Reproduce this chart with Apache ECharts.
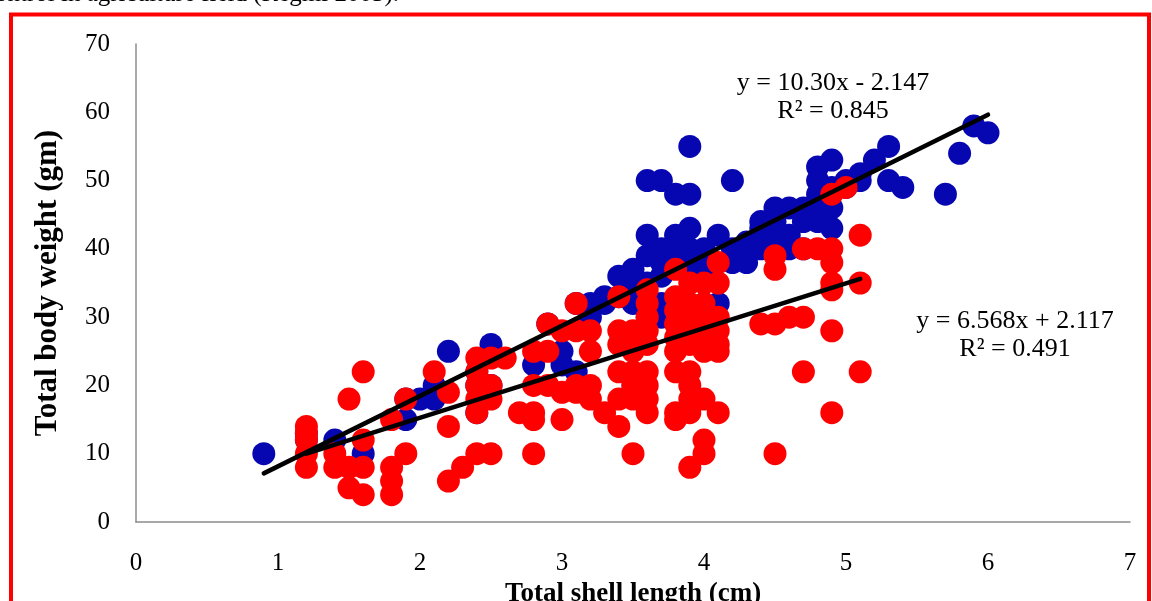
<!DOCTYPE html>
<html>
<head>
<meta charset="utf-8">
<script src="https://cdn.jsdelivr.net/npm/echarts@6/dist/echarts.min.js"></script>
<style>
html,body{margin:0;padding:0;background:#fff;}
#chart{width:1152px;height:601px;}
</style>
</head>
<body>
<div id="chart"></div>
<script>
// ---- data ----
const xTicks = [0,1,2,3,4,5,6,7];
const yTicks = [0,10,20,30,40,50,60,70];

const blueX = [0.9,1.2,1.2,1.4,1.6,1.9,1.9,2.0,2.1,2.1,2.2,2.4,2.4,2.4,2.5,2.5,2.8,2.9,3.0,3.0,3.1,3.1,3.2,3.2,3.3,3.4,3.5,3.5,3.5,3.5,3.6,3.6,3.6,3.7,3.8,3.9,3.9,3.8,3.9,4.1,4.2,3.7,3.7,3.7,3.6,3.8,3.9,4.0,4.0,3.9,4.2,4.3,4.3,4.4,4.4,4.5,4.5,4.5,4.6,4.6,4.6,4.7,4.7,4.7,4.8,4.8,4.8,4.8,4.8,4.9,4.9,4.9,4.9,5.0,5.1,5.1,5.2,5.3,5.3,5.4,5.7,5.8,5.9,6.0,4.0,4.1,3.7,3.6,3.7,3.5,3.4,3.3,4.0,4.2,4.4,4.5,5.0];
const blueY = [10,12,13,12,10,15,18,18,18,20,25,16,20,22,26,20,23,29,25,23,32,22,32,30,33,36,37,32,21,20,39,42,50,50,48,48,55,42,43,42,50,40,38,36,35,40,40,40,38,38,40,41,38,43,40,46,44,41,46,42,40,46,40,44,52,50,48,46,44,53,49,46,43,49,51,50,53,55,50,49,48,54,58,57,32,32,32,30,30,34,33,32,36,38,44,40,50];

const redX = [1.2,1.2,1.2,1.2,1.2,1.4,1.4,1.5,1.5,1.5,1.6,1.6,1.6,1.6,1.8,1.8,1.8,1.8,1.9,1.9,2.1,2.2,2.2,2.2,2.3,2.4,2.4,2.4,2.4,2.4,2.4,2.5,2.5,2.5,2.5,2.6,2.7,2.8,2.8,2.8,2.8,2.8,2.9,2.9,2.9,3.0,3.0,3.0,3.1,3.1,3.1,3.1,3.2,3.2,3.2,3.2,3.3,3.4,3.4,3.4,3.4,3.4,3.4,3.5,3.5,3.5,3.5,3.5,3.5,3.6,3.6,3.6,3.6,3.6,3.6,3.6,3.6,3.6,3.8,3.8,3.8,3.8,3.8,3.8,3.8,3.8,3.8,3.9,3.9,3.9,3.9,3.9,3.9,3.9,3.9,3.9,3.9,4.0,4.0,4.0,4.0,4.0,4.0,4.0,4.0,4.0,4.1,4.1,4.1,4.1,4.1,4.1,4.1,4.4,4.5,4.5,4.5,4.5,4.6,4.7,4.7,4.7,4.8,4.9,4.9,4.9,4.9,4.9,4.9,4.9,5.0,5.1,5.1,5.1];
const redY = [14,13,12,10,8,10,8,8,5,18,22,12,8,4,15,8,6,4,18,10,22,19,14,6,8,24,22,20,18,16,10,24,20,18,10,24,16,25,20,16,15,10,29,25,20,28,19,15,32,28,20,19,28,25,20,18,16,33,28,26,22,18,14,28,25,22,20,18,10,34,32,30,28,26,22,20,18,16,37,33,31,29,27,25,22,16,15,35,32,30,28,26,22,20,18,16,8,35,32,30,28,26,25,18,12,10,38,35,30,28,26,25,16,29,39,37,29,10,30,40,30,22,40,48,40,38,35,34,28,16,49,42,35,22];

// printed regression equations
const blueFit = {slope: 10.30, intercept: -2.147, xFrom: 0.9, xTo: 6.0};
const redFit  = {slope: 6.568, intercept: 2.117, xFrom: 1.2, xTo: 5.1};

// ---- build ----
const zip = (a, b) => a.map((v, i) => [v, b[i]]);
const fitLine = f => [[f.xFrom, f.slope * f.xFrom + f.intercept], [f.xTo, f.slope * f.xTo + f.intercept]];

const serif = '"Liberation Serif","Times New Roman",serif';
const chart = echarts.init(document.getElementById('chart'));
chart.setOption({
  animation: false,
  backgroundColor: '#ffffff',
  grid: {left: 136, right: 22, top: 44, bottom: 79, containLabel: false, outerBoundsMode: 'none'},
  xAxis: {
    type: 'value', min: xTicks[0], max: xTicks[xTicks.length - 1], interval: 1,
    name: 'Total shell length (cm)', nameLocation: 'middle', nameGap: 57,
    nameTextStyle: {fontFamily: serif, fontSize: 27, fontWeight: 'bold', color: '#000'},
    axisLine: {show: true, lineStyle: {color: '#8c8c8c', width: 1.5}},
    axisTick: {show: false},
    splitLine: {show: false},
    axisLabel: {fontFamily: serif, fontSize: 25, color: '#000', margin: 29}
  },
  yAxis: {
    type: 'value', min: yTicks[0], max: yTicks[yTicks.length - 1], interval: 10,
    name: 'Total body weight (gm)', nameLocation: 'middle', nameGap: 73,
    nameTextStyle: {fontFamily: serif, fontSize: 31, fontWeight: 'bold', color: '#000'},
    axisLine: {show: true, lineStyle: {color: '#8c8c8c', width: 1.5}},
    axisTick: {show: false},
    splitLine: {show: false},
    axisLabel: {fontFamily: serif, fontSize: 25, color: '#000', margin: 26}
  },
  series: [
    {type: 'scatter', data: zip(blueX, blueY), symbolSize: 23, z: 2,
     itemStyle: {color: '#0707B2', opacity: 1}},
    {type: 'scatter', data: zip(redX, redY), symbolSize: 23, z: 3,
     itemStyle: {color: '#FF0000', opacity: 1}},
    {type: 'line', data: fitLine(blueFit), symbol: 'none', z: 5,
     lineStyle: {color: '#000', width: 4.5, cap: 'round'}},
    {type: 'line', data: fitLine(redFit), symbol: 'none', z: 5,
     lineStyle: {color: '#000', width: 4.5, cap: 'round'}}
  ],
  graphic: [
    {type: 'rect', shape: {x: 11, y: 14.5, width: 1138, height: 620}, z: 10, silent: true,
     style: {fill: 'none', stroke: '#FF0000', lineWidth: 4}},
    {type: 'text', x: -5, y: 7, z: 10,
     style: {text: 'ontrol in agriculture field (Regmi 2003).', font: '25px ' + serif, fill: '#000', verticalAlign: 'bottom', align: 'left'}},
    {type: 'text', x: 833, y: 83, z: 10,
     style: {text: 'y = 10.30x - 2.147', font: '26px ' + serif, fill: '#000', align: 'center', verticalAlign: 'middle'}},
    {type: 'text', x: 833, y: 111, z: 10,
     style: {text: 'R² = 0.845', font: '26px ' + serif, fill: '#000', align: 'center', verticalAlign: 'middle'}},
    {type: 'text', x: 1015, y: 321, z: 10,
     style: {text: 'y = 6.568x + 2.117', font: '26px ' + serif, fill: '#000', align: 'center', verticalAlign: 'middle'}},
    {type: 'text', x: 1015, y: 349, z: 10,
     style: {text: 'R² = 0.491', font: '26px ' + serif, fill: '#000', align: 'center', verticalAlign: 'middle'}}
  ]
});
</script>
</body>
</html>
